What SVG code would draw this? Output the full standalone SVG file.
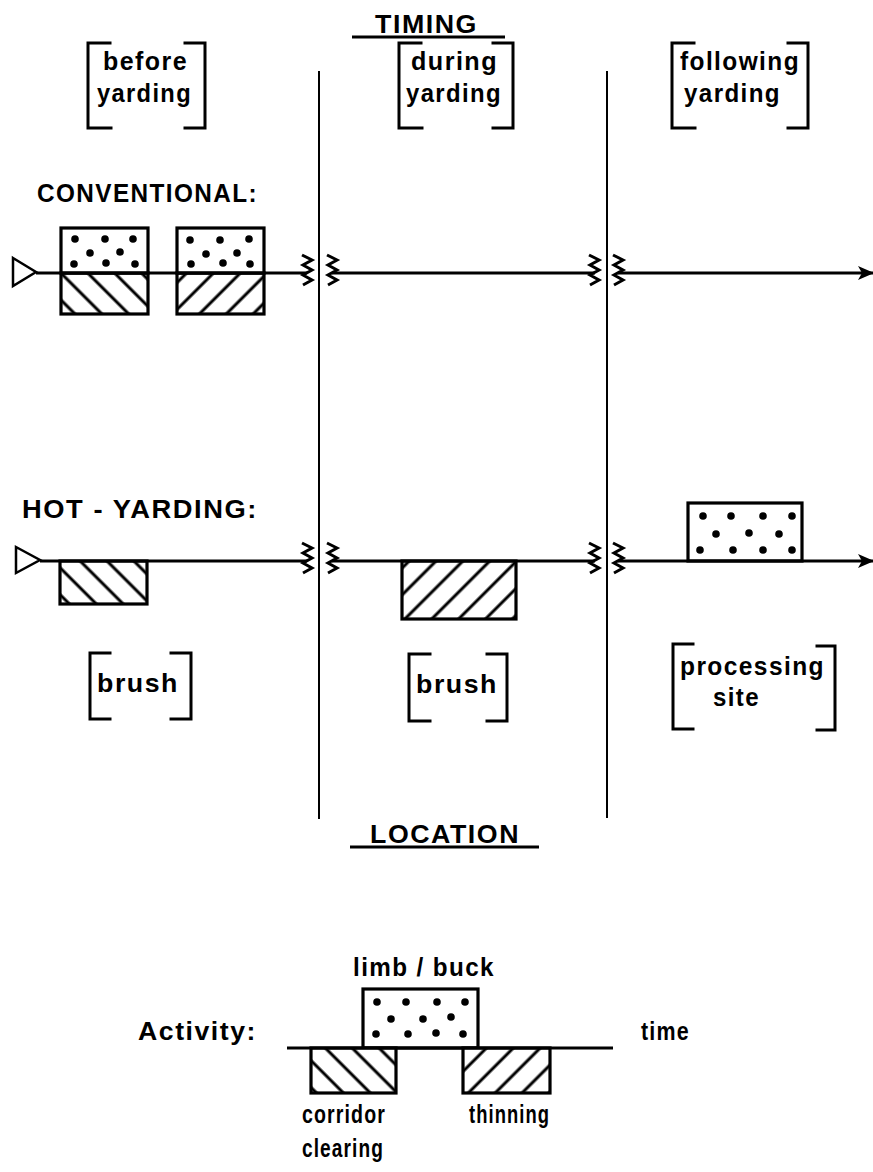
<svg xmlns="http://www.w3.org/2000/svg" width="873" height="1172" viewBox="0 0 873 1172">
<style>
text{font-family:"Liberation Sans",Arial,sans-serif;font-weight:bold;fill:#000;font-size:26px;letter-spacing:1.5px}
.ln{stroke:#000;stroke-width:3;fill:none}
.sep{stroke:#000;stroke-width:2;fill:none}
.br{stroke:#000;stroke-width:3;fill:none;stroke-linecap:square}
.box{stroke:#000;stroke-width:3.2}
.zz{stroke:#000;stroke-width:3;fill:none;stroke-linejoin:miter}
.dot{fill:#000}
</style>
<defs>
<pattern id="hb" patternUnits="userSpaceOnUse" width="19" height="19" patternTransform="rotate(-45)">
<rect width="19" height="19" fill="#fff"/><line x1="2" y1="0" x2="2" y2="19" stroke="#000" stroke-width="3"/>
</pattern>
<pattern id="hf" patternUnits="userSpaceOnUse" width="19" height="19" patternTransform="rotate(45)">
<rect width="19" height="19" fill="#fff"/><line x1="2" y1="0" x2="2" y2="19" stroke="#000" stroke-width="3"/>
</pattern>
<marker id="arr" markerWidth="16" markerHeight="14" refX="15" refY="7" orient="auto" markerUnits="userSpaceOnUse">
<path d="M0,0 L16,7 L0,14 L4,7 Z" fill="#000"/>
</marker>
<path id="zig" d="M0,0 L10,5 L1,10 L10,15 L1,20 L10,25 L1,30"/>
</defs>

<g id="titles">
<text x="375" y="33" font-size="26" textLength="103" lengthAdjust="spacingAndGlyphs">TIMING</text>
<line class="ln" x1="352" y1="37" x2="505" y2="37"/>
<text x="370" y="843" font-size="26" textLength="150" lengthAdjust="spacingAndGlyphs">LOCATION</text>
<line class="ln" x1="350" y1="847" x2="539" y2="847"/>
</g>

<g id="separators">
<line class="sep" x1="319" y1="71" x2="319" y2="819"/>
<line class="sep" x1="607" y1="71" x2="607" y2="818"/>
</g>

<g id="timing-before">
<path class="br" d="M110,43 H88 V128 H111"/>
<path class="br" d="M185,43 H205 V128 H185"/>
<text x="103" y="70" textLength="85" lengthAdjust="spacingAndGlyphs">before</text>
<text x="97" y="102" textLength="95" lengthAdjust="spacingAndGlyphs">yarding</text>
</g>
<g id="timing-during">
<path class="br" d="M421,43 H399 V128 H422"/>
<path class="br" d="M493,43 H513 V128 H493"/>
<text x="411" y="70" textLength="87" lengthAdjust="spacingAndGlyphs">during</text>
<text x="406" y="102" textLength="96" lengthAdjust="spacingAndGlyphs">yarding</text>
</g>
<g id="timing-following">
<path class="br" d="M694,43 H672 V128 H695"/>
<path class="br" d="M788,43 H808 V128 H788"/>
<text x="680" y="70" textLength="120" lengthAdjust="spacingAndGlyphs">following</text>
<text x="684" y="102" textLength="97" lengthAdjust="spacingAndGlyphs">yarding</text>
</g>

<g id="conventional-label"><text x="37" y="202" font-size="25" textLength="221" lengthAdjust="spacingAndGlyphs">CONVENTIONAL:</text></g>
<g id="hot-label"><text x="22" y="518" font-size="25" textLength="236" lengthAdjust="spacingAndGlyphs">HOT - YARDING:</text></g>

<g id="conv-box1">
<rect class="box" x="61" y="273" width="87" height="41" fill="url(#hb)"/>
<rect class="box" x="61" y="228" width="87" height="45" fill="#fff"/>
<circle class="dot" cx="75" cy="239" r="3.8"/><circle class="dot" cx="105" cy="239" r="3.8"/><circle class="dot" cx="133" cy="239" r="3.8"/>
<circle class="dot" cx="90" cy="253" r="3.8"/><circle class="dot" cx="120" cy="252" r="3.8"/>
<circle class="dot" cx="74" cy="264" r="3.8"/><circle class="dot" cx="106" cy="263" r="3.8"/><circle class="dot" cx="135" cy="264" r="3.8"/>
</g>
<g id="conv-box2">
<rect class="box" x="177" y="273" width="87" height="41" fill="url(#hf)"/>
<rect class="box" x="177" y="228" width="87" height="45" fill="#fff"/>
<circle class="dot" cx="190" cy="240" r="3.8"/><circle class="dot" cx="220" cy="240" r="3.8"/><circle class="dot" cx="249" cy="239" r="3.8"/>
<circle class="dot" cx="206" cy="254" r="3.8"/><circle class="dot" cx="237" cy="253" r="3.8"/>
<circle class="dot" cx="191" cy="264" r="3.8"/><circle class="dot" cx="223" cy="263" r="3.8"/><circle class="dot" cx="250" cy="264" r="3.8"/>
</g>

<g id="hot-box1">
<rect class="box" x="60" y="561" width="87" height="43" fill="url(#hb)"/>
</g>
<g id="hot-box2">
<rect class="box" x="402" y="561" width="114" height="58" fill="url(#hf)"/>
</g>
<g id="hot-box3">
<rect class="box" x="688" y="503" width="114" height="58" fill="#fff"/>
<circle class="dot" cx="703" cy="516" r="3.8"/><circle class="dot" cx="731" cy="516" r="3.8"/><circle class="dot" cx="763" cy="516" r="3.8"/><circle class="dot" cx="792" cy="516" r="3.8"/>
<circle class="dot" cx="716" cy="534" r="3.8"/><circle class="dot" cx="749" cy="533" r="3.8"/><circle class="dot" cx="779" cy="534" r="3.8"/>
<circle class="dot" cx="700" cy="550" r="3.8"/><circle class="dot" cx="733" cy="550" r="3.8"/><circle class="dot" cx="763" cy="550" r="3.8"/><circle class="dot" cx="792" cy="550" r="3.8"/>
</g>

<g id="connectors">
<polygon points="13,258 36,272 13,286" fill="#fff" stroke="#000" stroke-width="2.5"/>
<line class="ln" x1="36" y1="273" x2="307" y2="273"/>
<use href="#zig" class="zz" x="302" y="255"/>
<use href="#zig" class="zz" x="327" y="255"/>
<line class="ln" x1="332" y1="273" x2="595" y2="273"/>
<use href="#zig" class="zz" x="589" y="255"/>
<use href="#zig" class="zz" x="613" y="255"/>
<line class="ln" x1="618" y1="273" x2="873" y2="273" marker-end="url(#arr)"/>

<polygon points="16,547 40,560 16,573" fill="#fff" stroke="#000" stroke-width="2.5"/>
<line class="ln" x1="40" y1="561" x2="307" y2="561"/>
<use href="#zig" class="zz" x="302" y="543"/>
<use href="#zig" class="zz" x="327" y="543"/>
<line class="ln" x1="332" y1="561" x2="595" y2="561"/>
<use href="#zig" class="zz" x="589" y="543"/>
<use href="#zig" class="zz" x="613" y="543"/>
<line class="ln" x1="618" y1="561" x2="873" y2="561" marker-end="url(#arr)"/>
</g>

<g id="loc-brush1">
<path class="br" d="M110,653 H90 V719 H110"/>
<path class="br" d="M171,653 H191 V719 H171"/>
<text x="97" y="692" textLength="82" lengthAdjust="spacingAndGlyphs">brush</text>
</g>
<g id="loc-brush2">
<path class="br" d="M430,654 H409 V721 H430"/>
<path class="br" d="M487,654 H507 V721 H487"/>
<text x="416" y="693" textLength="82" lengthAdjust="spacingAndGlyphs">brush</text>
</g>
<g id="loc-processing">
<path class="br" d="M693,644 H673 V729 H693"/>
<path class="br" d="M817,646 H835 V730 H817"/>
<text x="680" y="675" textLength="145" lengthAdjust="spacingAndGlyphs">processing</text>
<text x="713" y="706" textLength="47" lengthAdjust="spacingAndGlyphs">site</text>
</g>

<g id="legend">
<text x="138" y="1040" textLength="119" lengthAdjust="spacingAndGlyphs">Activity:</text>
<text x="353" y="976" textLength="142" lengthAdjust="spacingAndGlyphs">limb / buck</text>
<rect class="box" x="363" y="989" width="115" height="59" fill="#fff"/>
<circle class="dot" cx="377" cy="1002" r="3.8"/><circle class="dot" cx="406" cy="1002" r="3.8"/><circle class="dot" cx="437" cy="1002" r="3.8"/><circle class="dot" cx="465" cy="1002" r="3.8"/>
<circle class="dot" cx="391" cy="1019" r="3.8"/><circle class="dot" cx="423" cy="1019" r="3.8"/><circle class="dot" cx="451" cy="1017" r="3.8"/>
<circle class="dot" cx="376" cy="1034" r="3.8"/><circle class="dot" cx="408" cy="1034" r="3.8"/><circle class="dot" cx="436" cy="1033" r="3.8"/><circle class="dot" cx="463" cy="1034" r="3.8"/>
<rect class="box" x="311" y="1048" width="85" height="45" fill="url(#hb)"/>
<rect class="box" x="463" y="1048" width="87" height="45" fill="url(#hf)"/>
<line class="ln" x1="287" y1="1048" x2="613" y2="1048"/>
<text x="641" y="1040" textLength="49" lengthAdjust="spacingAndGlyphs">time</text>
<text x="302" y="1123" textLength="84" lengthAdjust="spacingAndGlyphs">corridor</text>
<text x="302" y="1157" textLength="82" lengthAdjust="spacingAndGlyphs">clearing</text>
<text x="469" y="1123" textLength="81" lengthAdjust="spacingAndGlyphs">thinning</text>
</g>
</svg>
